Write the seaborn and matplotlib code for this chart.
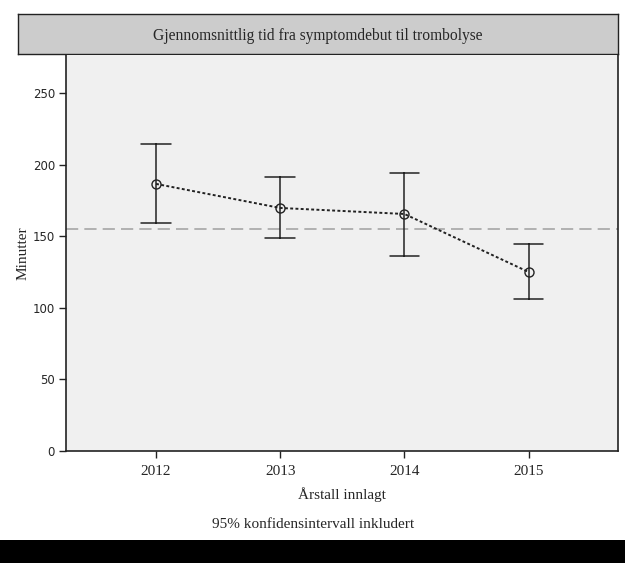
import matplotlib
matplotlib.use("Agg")
import matplotlib.pyplot as plt
import pandas as pd
import numpy as np
import seaborn as sns

years = ["2012", "2013", "2014", "2015"]
means = [186.5, 169.7, 165.5, 125.0]
ci_low = [159.2, 148.7, 136.2, 105.8]
ci_high = [214.4, 191.0, 194.1, 144.2]
ref_line = 155.0

title = "Gjennomsnittlig tid fra symptomdebut til trombolyse"
xlabel = "Årstall innlagt"
ylabel = "Minutter"
footer = "95% konfidensintervall inkludert"

# long table: lo / mean / hi per year -> median is the mean, min/max the CI
rows = []
for y, lo, m, hi in zip(years, ci_low, means, ci_high):
    for v in (lo, m, hi):
        rows.append({"year": y, "value": v})
df = pd.DataFrame(rows)

sns.set_style("white")
plt.rcParams["font.family"] = ["Liberation Serif", "DejaVu Serif"]

W, H = 625, 563
fig = plt.figure(figsize=(W / 100, H / 100), dpi=100)

# black strip at the bottom
strip = fig.add_axes([0, 0, 1, 23 / H])
strip.set_facecolor("black")
strip.set_xticks([])
strip.set_yticks([])
for s in strip.spines.values():
    s.set_visible(False)

# title box
tbox = fig.add_axes([18 / W, 1 - 54 / H, 600 / W, 40 / H])
tbox.set_facecolor("#cccccc")
tbox.set_xticks([])
tbox.set_yticks([])
for s in tbox.spines.values():
    s.set_color("#222222")
    s.set_linewidth(1.0)
tbox.text(0.5, 0.45, title, ha="center", va="center", fontsize=11.2)

ax = fig.add_axes([66 / W, 1 - 451 / H, 552 / W, 396 / H])
ax.set_facecolor("#f0f0f0")

sns.pointplot(data=df, x="year", y="value", order=years,
              estimator=np.median, errorbar=lambda v: (v.min(), v.max()),
              color="#222222", markers="o", linestyles=(0, (1.5, 1.2)),
              capsize=0.24, err_kws={"linewidth": 1.1},
              markerfacecolor="none", markersize=6.5, markeredgewidth=1.0,
              linewidth=1.4, ax=ax)

ax.axhline(ref_line, color="#a0a0a0", linewidth=1.1, dashes=(8, 4), zorder=0)

ax.set_xlim(-0.725, 3.72)
ax.set_ylim(0, 276.5)
ax.set_yticks([0, 50, 100, 150, 200, 250])
ax.set_yticklabels(["0", "50", "100", "150", "200", "250"],
                   family="DejaVu Sans", fontsize=8.5)
ax.set_xticks(range(len(years)))
ax.set_xticklabels(years, fontsize=11)
ax.tick_params(axis="both", direction="out", length=5, width=1.0,
               color="#222222", left=True, bottom=True, pad=3)
ax.tick_params(axis="x", pad=5)

for side in ["left", "bottom", "right"]:
    ax.spines[side].set_color("#222222")
    ax.spines[side].set_linewidth(1.2)
ax.spines["top"].set_visible(False)

ax.set_xlabel(xlabel, fontsize=11, labelpad=7)
ax.set_ylabel(ylabel, fontsize=11)
ax.yaxis.set_label_coords((30 - 66) / 552, 0.5)

fig.text(313 / W, 1 - 524 / H, footer, ha="center", va="center", fontsize=11)

fig.savefig("out.png", dpi=100, facecolor="white")
